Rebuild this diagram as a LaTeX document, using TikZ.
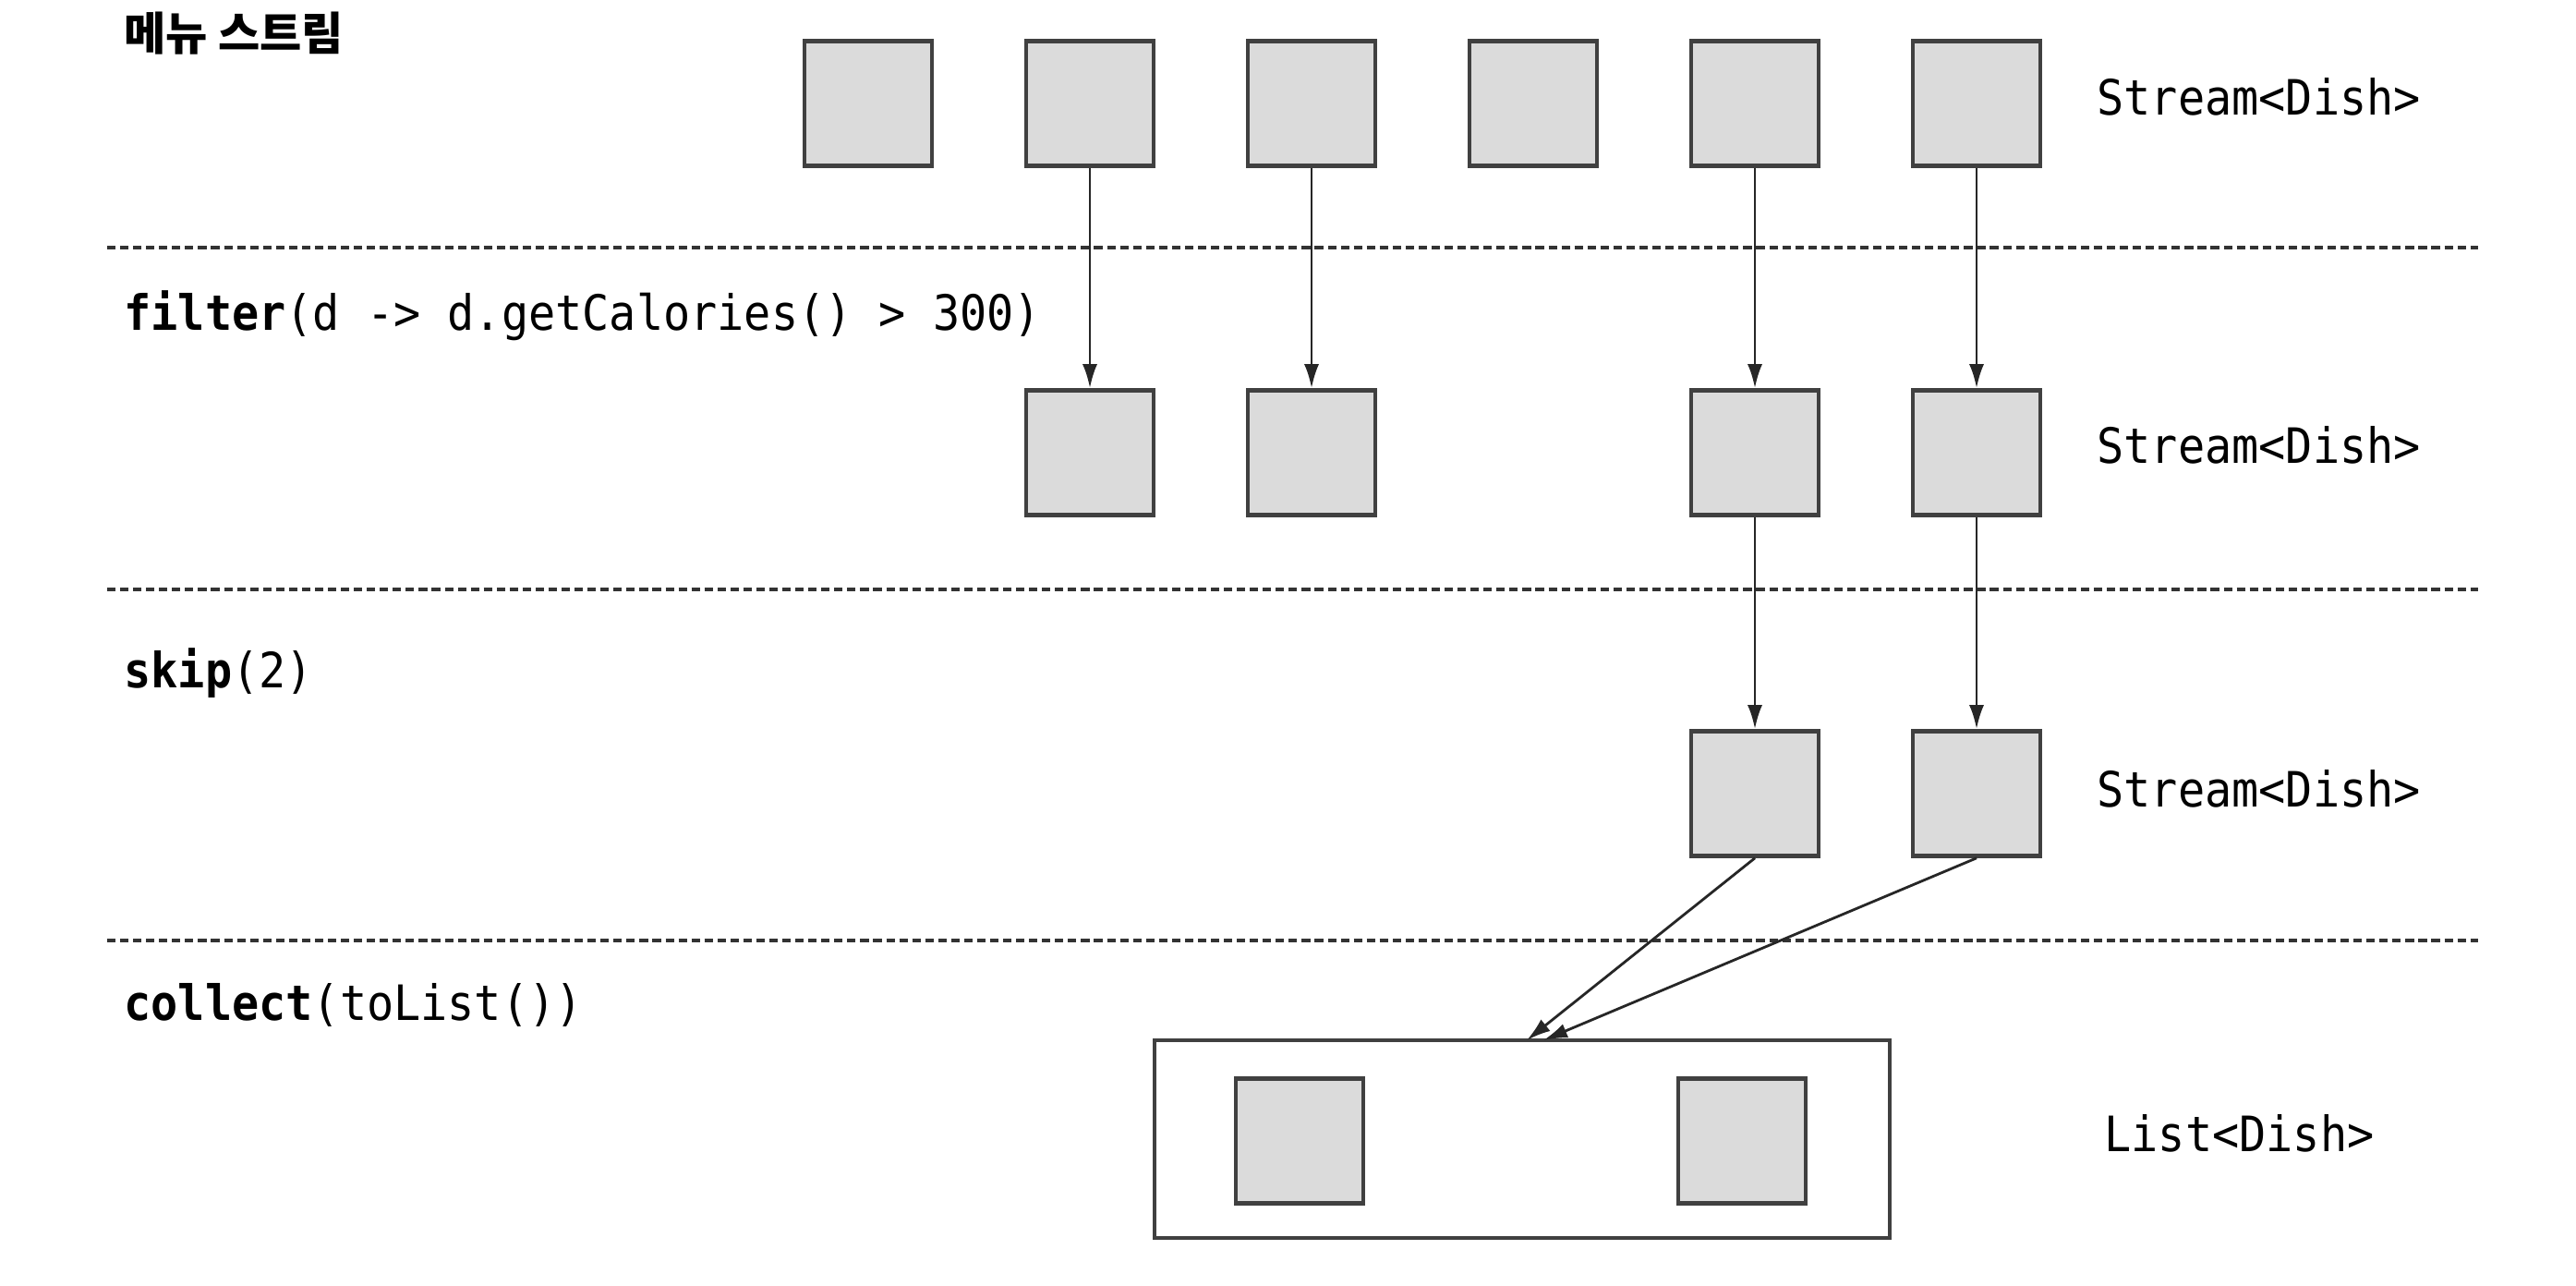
\documentclass[tikz,border=0pt]{standalone}
\usepackage{fontspec}
\usepackage{tikz}
\usetikzlibrary{arrows.meta, positioning}
\newfontfamily\codefont[FakeStretch=0.92]{DejaVu Sans Mono}
\newfontfamily\kofont{Noto Sans CJK KR}

\begin{document}
\begin{tikzpicture}[node distance=2.4cm, thick,
    dish/.style={rectangle, draw=black!75, fill=black!14, line width=1.3pt, minimum width=1.38cm, minimum height=1.35cm, inner sep=0pt},
    op/.style={anchor=west, inner sep=0pt, font=\codefont\fontsize{15}{18}\selectfont},
    kind/.style={anchor=west, inner sep=0pt, font=\codefont\fontsize{15}{18}\selectfont},
    title/.style={anchor=west, inner sep=0pt, font=\kofont\bfseries\fontsize{14}{17}\selectfont},
    sep/.style={line width=1.1pt, black!80, dash pattern=on 2.6pt off 1.4pt},
    flow/.style={-{Latex[length=2.6mm, width=1.6mm]}, line width=0.8pt, black!85}]
    \useasboundingbox (0,0) rectangle (27.89,13.91);

    % Menu stream
    \node[dish] (m1) at (9.40,12.79) {};
    \node[dish, right of=m1] (m2) {};
    \node[dish, right of=m2] (m3) {};
    \node[dish, right of=m3] (m4) {};
    \node[dish, right of=m4] (m5) {};
    \node[dish, right of=m5] (m6) {};

    % After filter
    \node[dish, below of=m2, node distance=3.78cm] (f2) {};
    \node[dish, below of=m3, node distance=3.78cm] (f3) {};
    \node[dish, below of=m5, node distance=3.78cm] (f5) {};
    \node[dish, below of=m6, node distance=3.78cm] (f6) {};

    % After skip
    \node[dish, below of=f5, node distance=3.69cm] (s5) {};
    \node[dish, below of=f6, node distance=3.69cm] (s6) {};

    % Collected list
    \node[draw=black!75, line width=1.3pt, minimum width=7.96cm, minimum height=2.14cm, inner sep=0pt] (lst) at (16.48,1.58) {};
    \node[dish] (l1) at (14.07,1.56) {};
    \node[dish] (l2) at (18.86,1.56) {};
    \coordinate (in1) at (16.53,2.65);
    \coordinate (in2) at (16.71,2.65);

    % Labels
    \node[title] (menu) at (1.33,13.55) {메뉴 스트림};
    \node[op] (filter) at (1.33,10.49) {\textbf{filter}(d -> d.getCalories() > 300)};
    \node[op] (skip) at (1.33,6.62) {\textbf{skip}(2)};
    \node[op] (collect) at (1.33,3.03) {\textbf{collect}(toList())};
    \node[kind] (k1) at (22.69,12.86) {Stream<Dish>};
    \node[kind] (k2) at (22.69,9.09) {Stream<Dish>};
    \node[kind] (k3) at (22.69,5.37) {Stream<Dish>};
    \node[kind] (k4) at (22.77,1.64) {List<Dish>};

    % Separators
    \coordinate (a1) at (1.16,11.23);
    \coordinate (b1) at (26.83,11.23);
    \coordinate (a2) at (1.16,7.53);
    \coordinate (b2) at (26.83,7.53);
    \coordinate (a3) at (1.16,3.73);
    \coordinate (b3) at (26.83,3.73);
    \draw[sep] (a1) -- (b1);
    \draw[sep] (a2) -- (b2);
    \draw[sep] (a3) -- (b3);

    % Edges
    \draw[flow] (m2) -- (f2);
    \draw[flow] (m3) -- (f3);
    \draw[flow] (m5) -- (f5);
    \draw[flow] (m6) -- (f6);
    \draw[flow] (f5) -- (s5);
    \draw[flow] (f6) -- (s6);
    \draw[flow] (s5.south) -- (in1);
    \draw[flow] (s6.south) -- (in2);
\end{tikzpicture}
\end{document}
